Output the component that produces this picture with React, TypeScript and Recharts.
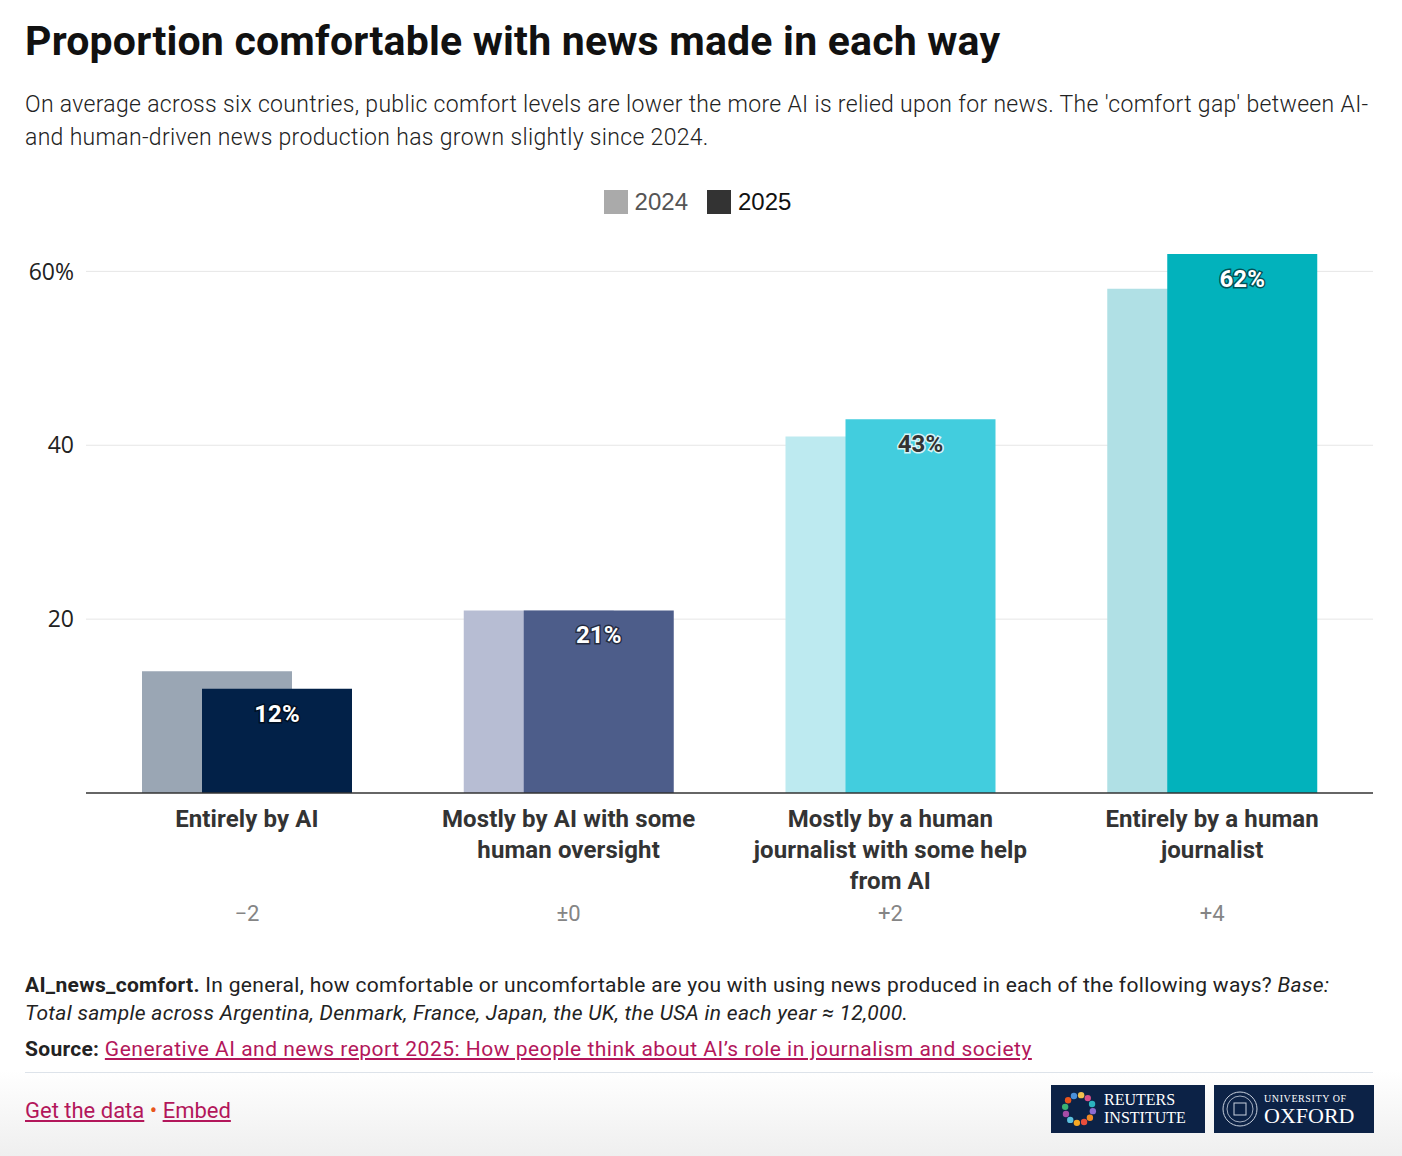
import React from "react";
import {
  BarChart,
  Bar,
  Cell,
  XAxis,
  YAxis,
  CartesianGrid,
  LabelList,
} from "recharts";

const categories = [
  "Entirely by AI",
  "Mostly by AI with some human oversight",
  "Mostly by a human journalist with some help from AI",
  "Entirely by a human journalist",
];

// how the tick labels wrap in the original
const categoryLines = [
  ["Entirely by AI"],
  ["Mostly by AI with some", "human oversight"],
  ["Mostly by a human", "journalist with some help", "from AI"],
  ["Entirely by a human", "journalist"],
];

const gapLabels = ["\u22122", "\u00b10", "+2", "+4"];

const values2024 = [14, 21, 41, 58];
const values2025 = [12, 21, 43, 62];

const colors2024 = ["#9aa6b4", "#b7bdd3", "#bdeaf0", "#b0e0e5"];
const colors2025 = ["#022148", "#4d5d8a", "#42cdde", "#02b2bc"];
const labelDark = [false, false, true, false];

const yTicks = [20, 40, 60];

const data = categories.map((name, i) => ({
  name,
  y2024: values2024[i],
  y2025: values2025[i],
}));

const FONT = "Roboto, 'Noto Sans', sans-serif";
const CRIMSON = "#b3175b";

function CategoryTick(props: any) {
  const { x, y, index } = props;
  const lines = categoryLines[index] || [];
  return (
    <g>
      {lines.map((line, i) => (
        <text
          key={i}
          x={x}
          y={y + 26 + i * 31}
          textAnchor="middle"
          dominantBaseline="central"
          fontFamily={FONT}
          fontWeight={700}
          fontSize={24}
          letterSpacing={0.1}
          fill="#333"
        >
          {line}
        </text>
      ))}
      <text
        x={x}
        y={y + 120}
        textAnchor="middle"
        dominantBaseline="central"
        fontFamily={FONT}
        fontSize={22}
        fill="#858585"
      >
        {gapLabels[index]}
      </text>
    </g>
  );
}

function ValueLabel(props: any) {
  const { x, y, width, value, index } = props;
  const dark = labelDark[index];
  return (
    <text
      x={x + width / 2}
      y={y + 25}
      textAnchor="middle"
      dominantBaseline="central"
      fontFamily={FONT}
      fontWeight={700}
      fontSize={24}
      fill={dark ? "#333" : "#fff"}
      stroke={dark ? "rgba(255,255,255,0.8)" : "rgba(0,0,0,0.55)"}
      strokeWidth={3}
      paintOrder="stroke"
    >
      {value}%
    </text>
  );
}

function Legend2() {
  const item = (color: string, label: string, textColor: string) => (
    <div style={{ display: "flex", alignItems: "center", marginRight: 19 }}>
      <div style={{ width: 24, height: 24, background: color, marginRight: 7 }} />
      <span style={{ color: textColor, fontSize: 24, fontFamily: "'Liberation Sans', Arial, sans-serif" }}>
        {label}
      </span>
    </div>
  );
  return (
    <div
      style={{
        position: "absolute",
        top: 188,
        left: 0,
        width: 1402,
        display: "flex",
        justifyContent: "center",
        paddingLeft: 12,
        boxSizing: "border-box",
      }}
    >
      {item("#aaaaaa", "2024", "#555")}
      {item("#333333", "2025", "#111")}
    </div>
  );
}

export default function App() {
  return (
    <div
      style={{
        position: "absolute",
        top: 0,
        left: 0,
        width: 1402,
        height: 1156,
        background: "linear-gradient(to bottom, #fff 0px, #fff 1070px, #efefef 1156px)",
        fontFamily: FONT,
        overflow: "hidden",
      }}
    >
      <div
        style={{
          position: "absolute",
          left: 25,
          top: 17,
          fontSize: 41,
          fontWeight: 700,
          color: "#111",
          letterSpacing: 0.2,
        }}
      >
        Proportion comfortable with news made in each way
      </div>
      <div
        style={{
          position: "absolute",
          left: 25,
          top: 88,
          fontSize: 23,
          lineHeight: "33px",
          color: "#222",
          fontWeight: 300,
          letterSpacing: 0.32,
        }}
      >
        On average across six countries, public comfort levels are lower the more AI is relied upon for news. The 'comfort gap' between AI-
        <br />
        and human-driven news production has grown slightly since 2024.
      </div>

      <Legend2 />

      <div style={{ position: "absolute", top: 180, left: 0 }}>
        <BarChart
          width={1402}
          height={760}
          data={data}
          margin={{ top: 74, right: 29, bottom: 7, left: 0 }}
          barSize={150}
          barGap={-90}
        >
          <CartesianGrid vertical={false} stroke="#e6e6e6" horizontalValues={yTicks} />
          <YAxis
            domain={[0, 62]}
            ticks={yTicks}
            width={86}
            axisLine={false}
            tickLine={false}
            tickSize={0}
            tickMargin={12}
            tickFormatter={(v: number) => (v === 60 ? `${v}%` : `${v}`)}
            tick={{ fill: "#222", fontSize: 23, fontFamily: "'Open Sans', sans-serif" }}
          />
          <XAxis
            dataKey="name"
            height={140}
            axisLine={{ stroke: "#333", strokeWidth: 1.5 }}
            tickLine={false}
            tickSize={0}
            tickMargin={0}
            interval={0}
            tick={<CategoryTick />}
          />
          <Bar dataKey="y2024" isAnimationActive={false}>
            {data.map((d, i) => (
              <Cell key={`a-${i}`} fill={colors2024[i]} />
            ))}
          </Bar>
          <Bar dataKey="y2025" isAnimationActive={false}>
            {data.map((d, i) => (
              <Cell key={`b-${i}`} fill={colors2025[i]} />
            ))}
            <LabelList dataKey="y2025" content={<ValueLabel />} />
          </Bar>
        </BarChart>
      </div>

      <div
        style={{
          position: "absolute",
          left: 25,
          top: 971,
          width: 1370,
          fontSize: 21,
          lineHeight: "28px",
          color: "#222",
          letterSpacing: 0.3,
        }}
      >
        <b>AI_news_comfort.</b> In general, how comfortable or uncomfortable are you with using news produced in each of the following ways?{" "}
        <i>Base:</i>
        <br />
        <i>Total sample across Argentina, Denmark, France, Japan, the UK, the USA in each year ≈ 12,000.</i>
        <div style={{ marginTop: 8 }}>
          <b>Source:</b>{" "}
          <span style={{ color: CRIMSON, textDecoration: "underline", letterSpacing: 0.5 }}>
            Generative AI and news report 2025: How people think about AI’s role in journalism and society
          </span>
        </div>
      </div>

      <div
        style={{
          position: "absolute",
          left: 25,
          top: 1072,
          width: 1348,
          height: 1,
          background: "#dde3ea",
        }}
      />

      <div
        style={{
          position: "absolute",
          left: 25,
          top: 1098,
          fontSize: 22,
        }}
      >
        <span style={{ color: CRIMSON, textDecoration: "underline" }}>Get the data</span>
        <span style={{ color: "#e8561c" }}> • </span>
        <span style={{ color: CRIMSON, textDecoration: "underline" }}>Embed</span>
      </div>

      <div
        style={{
          position: "absolute",
          left: 1051,
          top: 1085,
          width: 154,
          height: 48,
          background: "#0c2246",
          display: "flex",
          alignItems: "center",
        }}
      >
        <svg width={44} height={44} style={{ marginLeft: 6 }}>
          {[
            "#e94e3c", "#f7a823", "#5bc0de", "#a64ca6", "#3bb273", "#e8541c",
            "#4a90d9", "#f2c14e", "#d94f8a", "#2bb3c0", "#8c6bd1", "#f08a24",
          ].map((c, i) => {
            const a = (i / 12) * Math.PI * 2 + 1.2;
            return <circle key={i} cx={22 + Math.cos(a) * 14} cy={22 + Math.sin(a) * 14} r={3.2} fill={c} />;
          })}
        </svg>
        <div
          style={{
            color: "#fff",
            fontFamily: "'Liberation Serif', serif",
            fontSize: 16,
            lineHeight: "18px",
            marginLeft: 3,
          }}
        >
          <div>REUTERS</div>
          <div>INSTITUTE</div>
        </div>
      </div>

      <div
        style={{
          position: "absolute",
          left: 1214,
          top: 1085,
          width: 160,
          height: 48,
          background: "#0c2246",
          display: "flex",
          alignItems: "center",
        }}
      >
        <svg width={40} height={44} style={{ marginLeft: 6 }}>
          <circle cx={20} cy={22} r={17} fill="none" stroke="#c9d1de" strokeWidth={1} />
          <circle cx={20} cy={22} r={13} fill="none" stroke="#c9d1de" strokeWidth={0.8} />
          <rect x={14} y={16} width={12} height={12} fill="none" stroke="#c9d1de" strokeWidth={1} />
        </svg>
        <div style={{ color: "#fff", fontFamily: "'Liberation Serif', serif", marginLeft: 4 }}>
          <div style={{ fontSize: 10, letterSpacing: 0.6, lineHeight: "13px" }}>UNIVERSITY OF</div>
          <div style={{ fontSize: 22, lineHeight: "22px" }}>OXFORD</div>
        </div>
      </div>
    </div>
  );
}
